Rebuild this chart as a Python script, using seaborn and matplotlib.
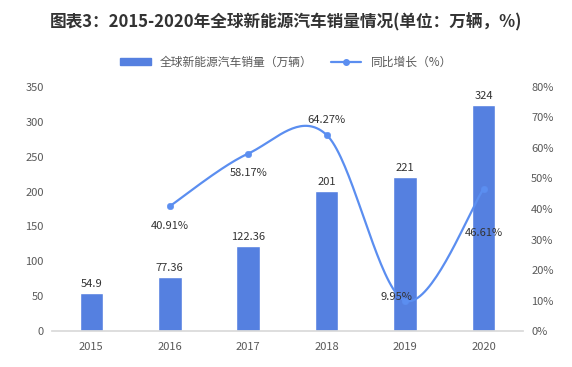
import numpy as np
import pandas as pd
import matplotlib
matplotlib.use("Agg")
import matplotlib.pyplot as plt
import seaborn as sns
from matplotlib.lines import Line2D
from matplotlib.patches import Patch

years = ["2015", "2016", "2017", "2018", "2019", "2020"]
sales = [54.9, 77.36, 122.36, 201, 221, 324]
growth_years = ["2016", "2017", "2018", "2019", "2020"]
growth = [40.91, 58.17, 64.27, 9.95, 46.61]
sales_labels = ["54.9", "77.36", "122.36", "201", "221", "324"]

sns.set_theme(style="white")
plt.rcParams['font.family'] = ['Noto Sans CJK SC', 'DejaVu Sans']

bar_color = "#5580e0"
line_color = "#5b8ef0"
text_color = "#595959"

df = pd.DataFrame({"year": years, "sales": sales})
gdf = pd.DataFrame({"year": growth_years, "growth": growth})
gdf["x"] = [years.index(y) for y in growth_years]

fig = plt.figure(figsize=(5.72, 3.67), dpi=100)
ax = fig.add_axes([0.091, 0.098, 0.823, 0.665])
sns.barplot(data=df, x="year", y="sales", color=bar_color, width=0.3,
            saturation=1, ax=ax)
ax.set_ylim(0, 350)
ax.set_yticks(range(0, 351, 50))
ax.set_xlim(-0.5, 5.5)
ax.set_xlabel("")
ax.set_ylabel("")
for i, v in enumerate(sales):
    ax.text(i, v + 6, sales_labels[i], ha="center", va="bottom", fontsize=8, color="#333333")

ax2 = ax.twinx()
# smooth curve like Excel (Catmull-Rom through the points)
px = np.array(gdf["x"], dtype=float)
py = np.array(gdf["growth"], dtype=float)
P = np.column_stack([px, py])
Pe = np.vstack([P[0], P, P[-1]])
curve = []
for k in range(1, len(Pe) - 2):
    p0, p1, p2, p3 = Pe[k - 1], Pe[k], Pe[k + 1], Pe[k + 2]
    c1 = p1 + (p2 - p0) / 6
    c2 = p2 - (p3 - p1) / 6
    t = np.linspace(0, 1, 40)[:, None]
    seg = ((1 - t) ** 3) * p1 + 3 * ((1 - t) ** 2) * t * c1 + 3 * (1 - t) * t ** 2 * c2 + t ** 3 * p2
    curve.append(seg)
curve = np.vstack(curve)
ax2.plot(curve[:, 0], curve[:, 1], color=line_color, lw=1.6, zorder=3)
sns.scatterplot(data=gdf, x="x", y="growth", color=line_color, s=22, ax=ax2,
                edgecolor=line_color, zorder=4)
ax2.set_ylim(0, 80)
ax2.set_yticks(range(0, 81, 10))
ax2.set_yticklabels([f"{v}%" for v in range(0, 81, 10)])
ax2.set_ylabel("")
ax2.set_xlabel("")

offsets = [(0, -14), (0, -14), (0, 11), (-6, 3), (0, -32)]
for (i, r), (dx, dy) in zip(gdf.iterrows(), offsets):
    ax2.annotate(f"{r['growth']:.2f}%", (r["x"], r["growth"]), xytext=(dx, dy),
                 textcoords="offset points", ha="center", va="center",
                 fontsize=8, color="#333333")

for a in (ax, ax2):
    for s in ["top", "right", "left", "bottom"]:
        a.spines[s].set_visible(False)
    a.tick_params(axis="both", length=0, labelsize=8, colors=text_color, pad=6)
ax.spines["bottom"].set_visible(True)
ax.spines["bottom"].set_color("#d9d9d9")
ax.tick_params(axis="x", pad=8)

handles = [Patch(color=bar_color, label="全球新能源汽车销量（万辆）"),
           Line2D([0], [0], color=line_color, lw=1.6, marker="o", markersize=4,
                  label="同比增长（%）")]
fig.legend(handles=handles, loc="center", bbox_to_anchor=(0.5, 0.83), ncol=2,
           frameon=False, fontsize=8.5, handlelength=2.6, columnspacing=1.5,
           labelcolor=text_color, handleheight=0.5)

fig.text(0.5, 0.94, "图表3：2015-2020年全球新能源汽车销量情况(单位：万辆，%)",
         ha="center", va="center", fontsize=12, fontweight="bold", color="#333333")

fig.savefig("out.png", dpi=100)
